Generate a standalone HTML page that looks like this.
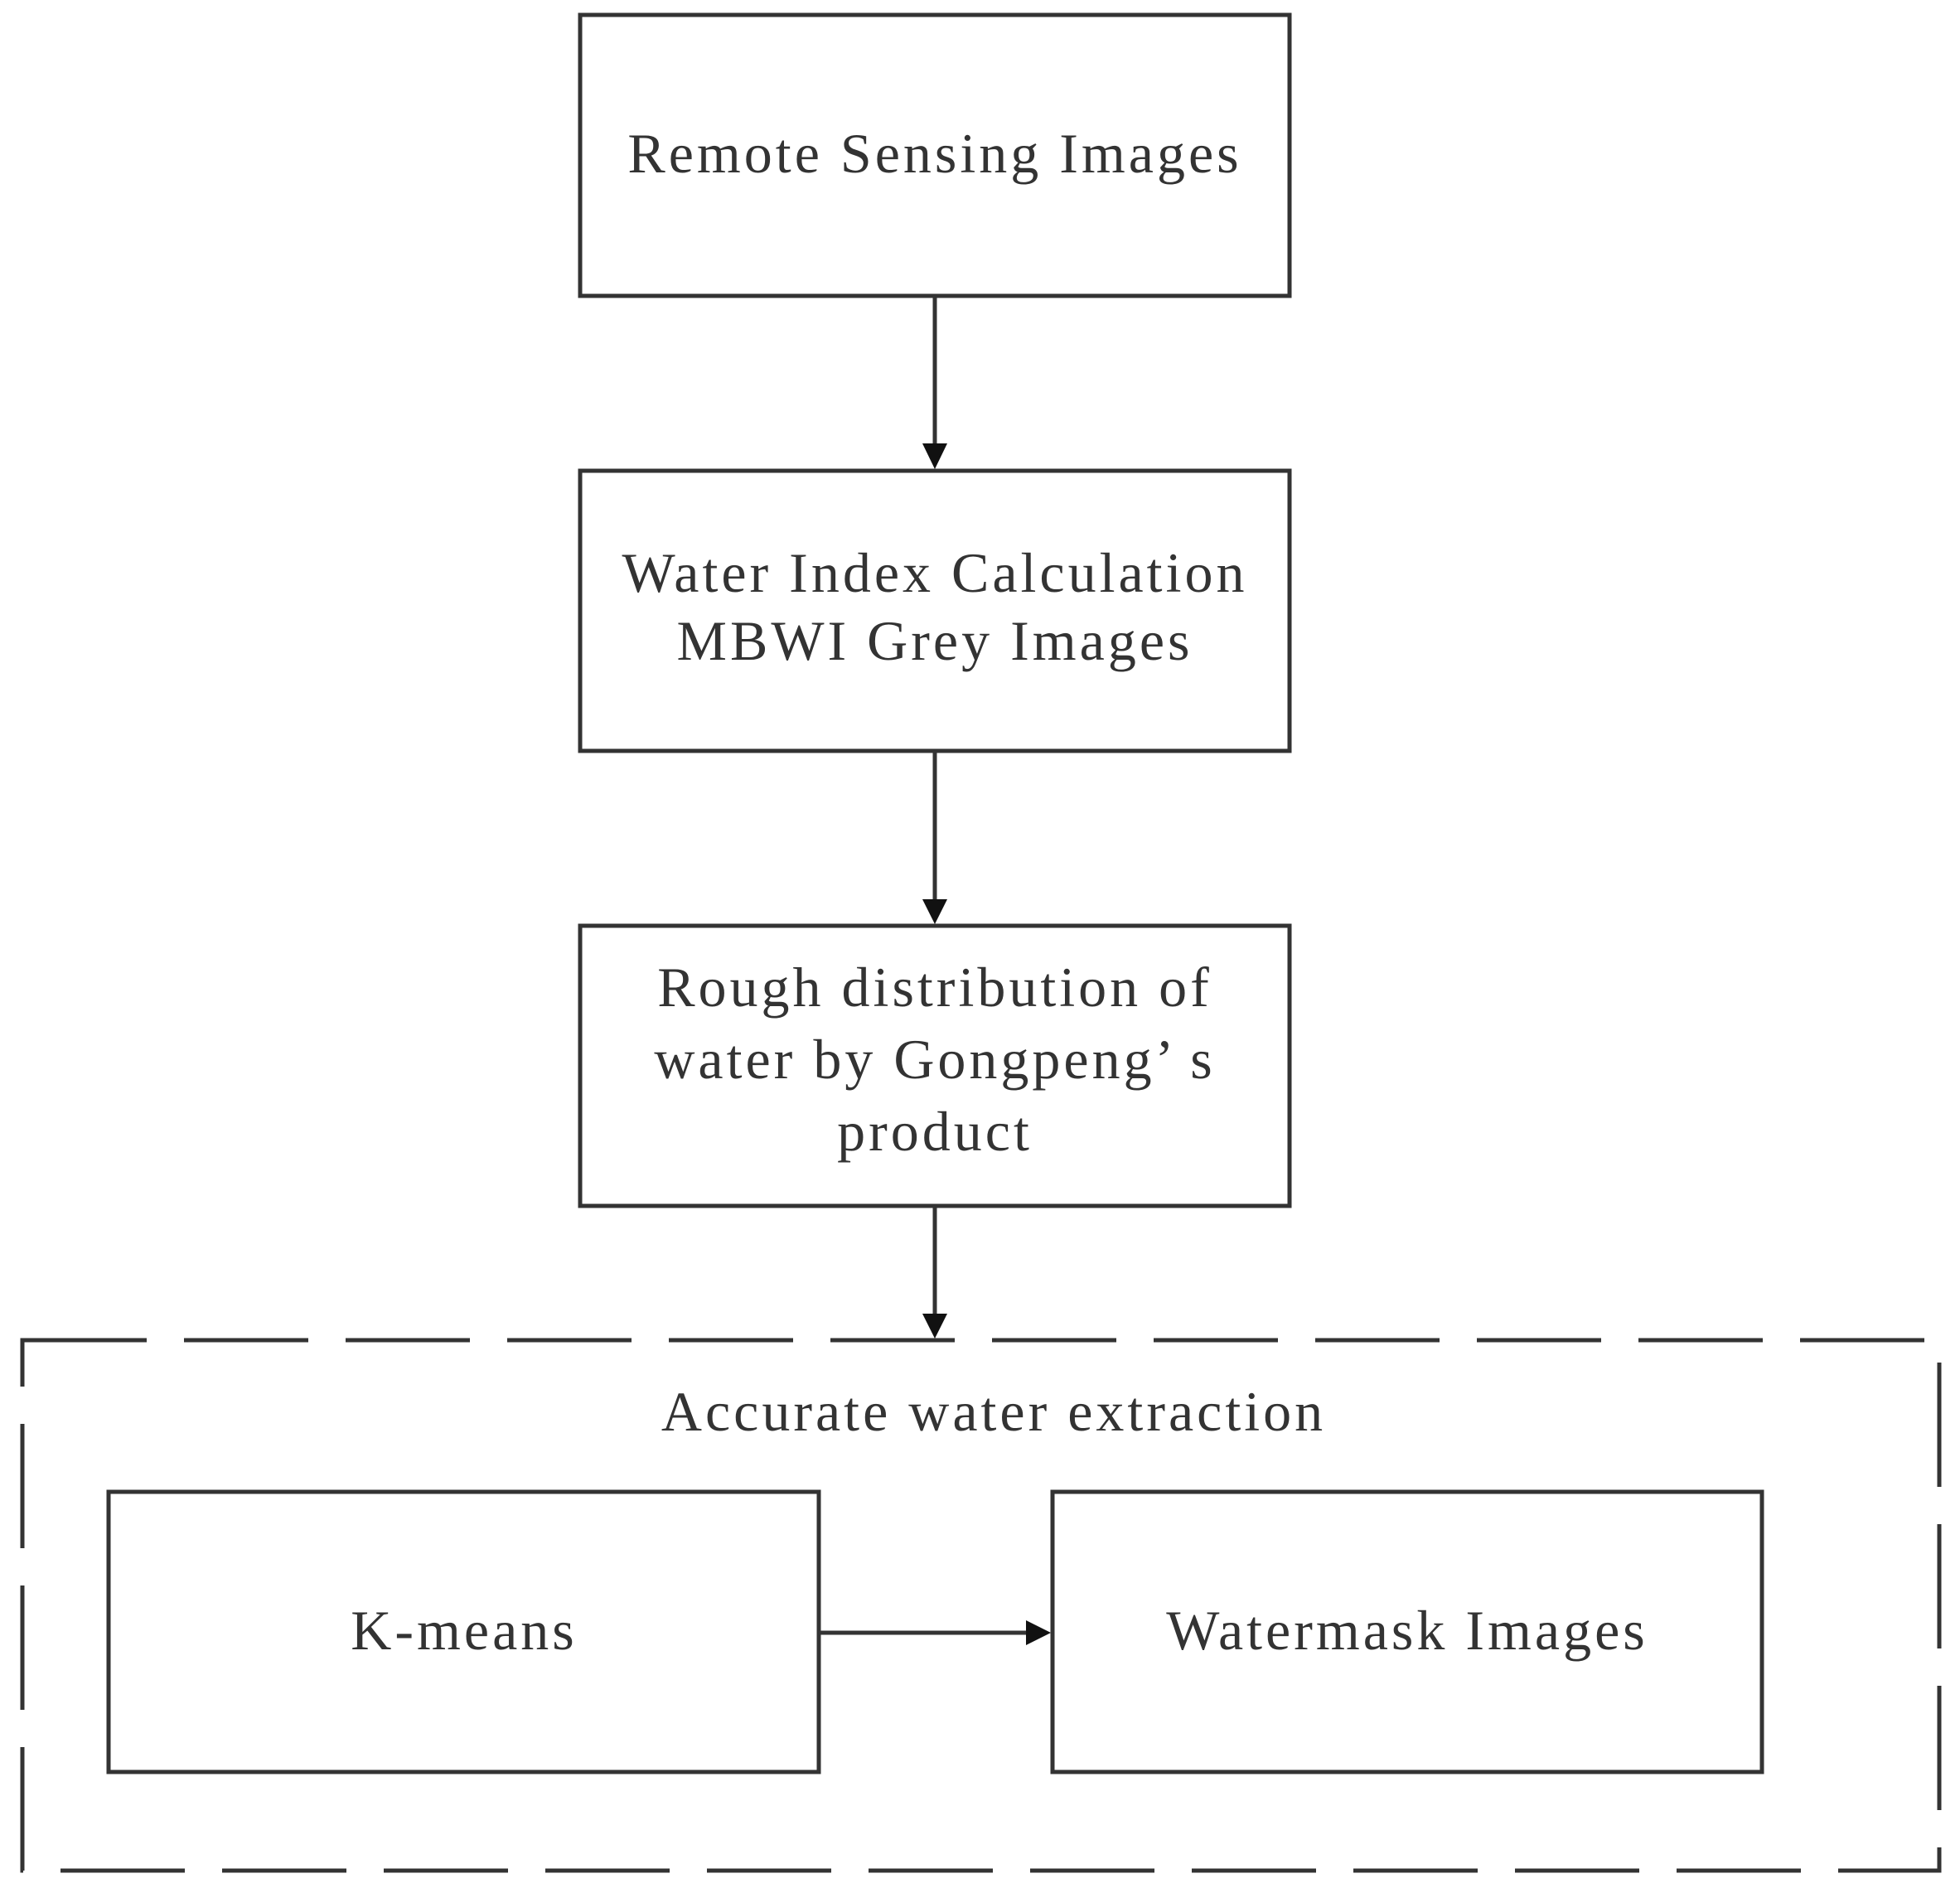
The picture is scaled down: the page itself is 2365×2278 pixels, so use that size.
<!DOCTYPE html>
<html><head><style>
html,body{margin:0;padding:0;background:#fff}
svg{display:block}
text{font-family:"Liberation Serif",serif;font-size:68px;letter-spacing:4px;fill:#333;text-anchor:middle}
</style></head><body>
<svg width="2365" height="2278" viewBox="0 0 2365 2278" xmlns="http://www.w3.org/2000/svg">
<g fill="none" stroke="#333" stroke-width="5">
<rect x="700" y="18" width="856" height="339"/>
<rect x="700" y="568" width="856" height="338"/>
<rect x="700" y="1117" width="856" height="338"/>
<rect x="131" y="1800" width="857" height="338"/>
<rect x="1270" y="1800" width="856" height="338"/>
<rect x="27" y="1617" width="2313" height="640" stroke-dasharray="150 45"/>
<line x1="1128" y1="357" x2="1128" y2="540"/>
<line x1="1128" y1="906" x2="1128" y2="1090"/>
<line x1="1128" y1="1455" x2="1128" y2="1590"/>
<line x1="988" y1="1970" x2="1242" y2="1970"/>
</g>
<g fill="#111">
<polygon points="1113,535 1143,535 1128,566"/>
<polygon points="1113,1085 1143,1085 1128,1115"/>
<polygon points="1113,1585 1143,1585 1128,1615"/>
<polygon points="1238,1955 1238,1985 1268,1970"/>
</g>
<text x="1128" y="208">Remote Sensing Images</text>
<text x="1128" y="714">Water Index Calculation</text>
<text x="1128" y="796">MBWI Grey Images</text>
<text x="1128" y="1214">Rough distribution of</text>
<text x="1128" y="1301">water by Gongpeng’  s</text>
<text x="1128" y="1388">product</text>
<text x="1199" y="1726">Accurate water extraction</text>
<text x="560" y="1990">K-means</text>
<text x="1698" y="1990">Watermask Images</text>
</svg>
</body></html>
